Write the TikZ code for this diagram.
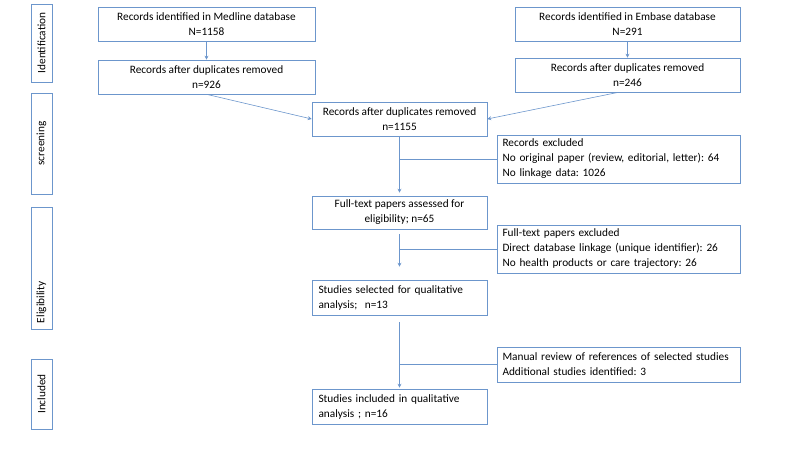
\documentclass[tikz,border=0pt]{standalone}
\usepackage{fontspec}
\setmainfont{Carlito}
\usetikzlibrary{positioning}
\usetikzlibrary{calc}
\usetikzlibrary{arrows.meta}

\definecolor{flowblue}{RGB}{108,150,204}
\frenchspacing

\tikzset{
	box/.style={draw=flowblue, line width=0.6pt, inner sep=0pt, align=center},
	lbox/.style={draw=flowblue, line width=0.6pt, inner xsep=6.5pt, inner ysep=0pt, align=left},
	rbox/.style={lbox, inner xsep=5.5pt, text width=232pt},
	phase/.style={draw=flowblue, line width=0.6pt, inner sep=0pt, rotate=90, minimum height=21pt},
	link/.style={draw=flowblue, line width=0.6pt},
	arr/.style={link, -{Stealth[length=4pt,width=4pt]}}
}

\begin{document}
\begin{tikzpicture}[x=1pt, y=-1pt, font=\fontsize{11.3}{15}\selectfont]
				\useasboundingbox (0,0) rectangle (800,449);
				% phases on the left
				\node[phase, minimum width=78pt, align=center] (identification) at (41.5,43) {Identification};
				\node[phase, minimum width=101pt, align=center] (screening) at (41.5,143.5) {screening};
				\node[phase, minimum width=122pt, text width=110pt, align=left] (eligibility) at (41.5,268) {Eligibility};
				\node[phase, minimum width=70pt, align=center] (included) at (41.5,394) {Included};
				% identification
				\node[box, minimum width=217pt, minimum height=34pt] (medline) at (206.5,24) {Records identified in Medline database\\N=1158};
				\node[box, minimum width=217pt, minimum height=34pt] (dupMedline) at (206.5,77) {Records after duplicates removed\\n=926};
				\node[box, minimum width=225pt, minimum height=34pt] (embase) at (627.5,24) {Records identified in Embase database\\N=291};
				\node[box, minimum width=225pt, minimum height=34pt] (dupEmbase) at (627.5,75) {Records after duplicates removed\\n=246};
				% screening and eligibility
				\node[box, minimum width=175pt, minimum height=34pt] (merged) at (399.5,119) {Records after duplicates removed\\n=1155};
				\node[rbox, minimum height=48pt] (excluded) at (618.5,159) {Records excluded\\No original paper (review, editorial, letter): 64\\No linkage data: 1026};
				\node[box, minimum width=175pt, minimum height=33pt] (fulltext) at (399.5,212.5) {Full-text papers assessed for\\eligibility; n=65};
				\node[rbox, minimum height=48pt] (fullExcluded) at (618.5,249) {Full-text papers excluded\\Direct database linkage (unique identifier): 26\\No health products or care trajectory: 26};
				\node[lbox, text width=162pt, minimum height=35pt] (selected) at (399.5,297.5) {Studies selected for qualitative\\analysis;\ \ n=13};
				% included
				\node[rbox, minimum height=35pt] (manual) at (618.5,364.5) {Manual review of references of selected studies\\Additional studies identified: 3};
				\node[lbox, text width=162pt, minimum height=35pt] (final) at (399.5,406.5) {Studies included in qualitative\\analysis ; n=16};
				% connectors
				\draw[arr] (medline) -- (dupMedline);
				\draw[arr] (embase) -- (dupEmbase);
				\draw[arr] (dupMedline.south) -- (merged.west);
				\draw[arr] ([xshift=-9pt]dupEmbase.south) -- (merged.east);
				\draw[arr, shorten >=3pt] (merged) -- (fulltext);
				\draw[link] (merged.south |- excluded.west) -- (excluded.west);
				\draw[arr, shorten <=5pt, shorten >=13pt] (fulltext) -- (selected);
				\draw[link] (fulltext.south |- fullExcluded.west) -- (fullExcluded.west);
				\draw[arr, shorten <=7pt, shorten >=1pt] (selected) -- (final);
				\draw[link] (selected.south |- manual.west) -- (manual.west);
\end{tikzpicture}
\end{document}
